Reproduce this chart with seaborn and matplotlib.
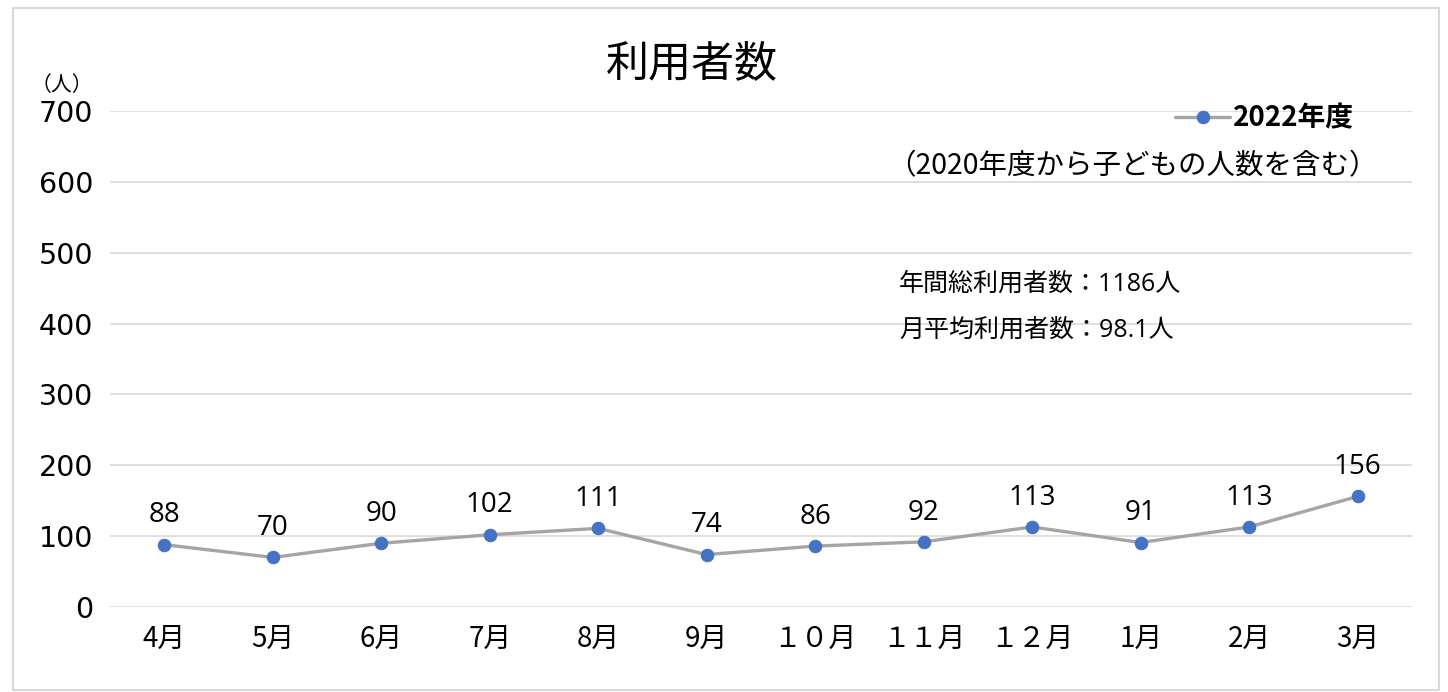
import matplotlib
matplotlib.use("Agg")
import matplotlib.pyplot as plt
import seaborn as sns
import pandas as pd
from matplotlib.patches import Rectangle

# データ
months = ["4月", "5月", "6月", "7月", "8月", "9月", "１０月", "１１月", "１２月", "1月", "2月", "3月"]
users = [88, 70, 90, 102, 111, 74, 86, 92, 113, 91, 113, 156]
series_name = "2022年度"
y_ticks = [0, 100, 200, 300, 400, 500, 600, 700]

sns.set_theme(style="white")
plt.rcParams['font.family'] = ['Noto Sans CJK JP', 'DejaVu Sans']
plt.rcParams['text.color'] = 'black'
plt.rcParams['xtick.color'] = 'black'
plt.rcParams['ytick.color'] = 'black'

df = pd.DataFrame({"month": months, "users": users})

fig = plt.figure(figsize=(14.48, 6.92), dpi=100)
ax = fig.add_axes([0.076, 0.1228, 0.899, 0.7168])

sns.lineplot(data=df, x="month", y="users", sort=False, ax=ax,
             color="#A5A5A5", linewidth=2.4, marker="o", markersize=9,
             markerfacecolor="#4472C4", markeredgecolor="#4472C4",
             label=series_name)

# データラベル
for i, v in enumerate(users):
    ax.annotate(str(v), (i, v), xytext=(0, 11), textcoords="offset points",
                ha="center", va="bottom", fontsize=20,
                family=['Open Sans', 'DejaVu Sans'], color="black")

ax.set_xlim(-0.5, len(months) - 0.5)
ax.set_ylim(0, 700)
ax.set_yticks(y_ticks)
ax.set_yticklabels([str(t) for t in y_ticks], fontsize=20.5, family=['DejaVu Sans'])
ax.set_xticks(range(len(months)))
ax.set_xticklabels(months, fontsize=20)
ax.tick_params(axis="x", length=0, pad=12)
ax.tick_params(axis="y", length=0, pad=12)
ax.set_xlabel("")
ax.set_ylabel("")
ax.grid(axis="y", color="#D9D9D9", linewidth=1.2)
ax.set_axisbelow(True)
for s in ax.spines.values():
    s.set_visible(False)

leg = ax.legend(loc="upper right", bbox_to_anchor=(0.975, 1.064), frameon=False,
                fontsize=20, handlelength=2.0, handletextpad=0.1)
for t in leg.get_texts():
    t.set_fontweight("bold")

fig.text(0.478, 0.9075, "利用者数", ha="center", va="center", fontsize=31)
fig.text(0.0425, 0.877, "（人）", ha="center", va="center", fontsize=15)
fig.text(0.613, 0.76, "（2020年度から子どもの人数を含む）", ha="left", va="center", fontsize=20.5)
fig.text(0.621, 0.59, "年間総利用者数：1186人", ha="left", va="center", fontsize=18,
         family=['Open Sans', 'Noto Sans CJK JP'])
fig.text(0.621, 0.523, "月平均利用者数：98.1人", ha="left", va="center", fontsize=18,
         family=['Open Sans', 'Noto Sans CJK JP'])

# 外枠
fig.patches.append(Rectangle((0.009, 0.003), 0.985, 0.985, transform=fig.transFigure,
                             fill=False, edgecolor="#D9D9D9", linewidth=1.5))

fig.savefig("out.png", dpi=100)
